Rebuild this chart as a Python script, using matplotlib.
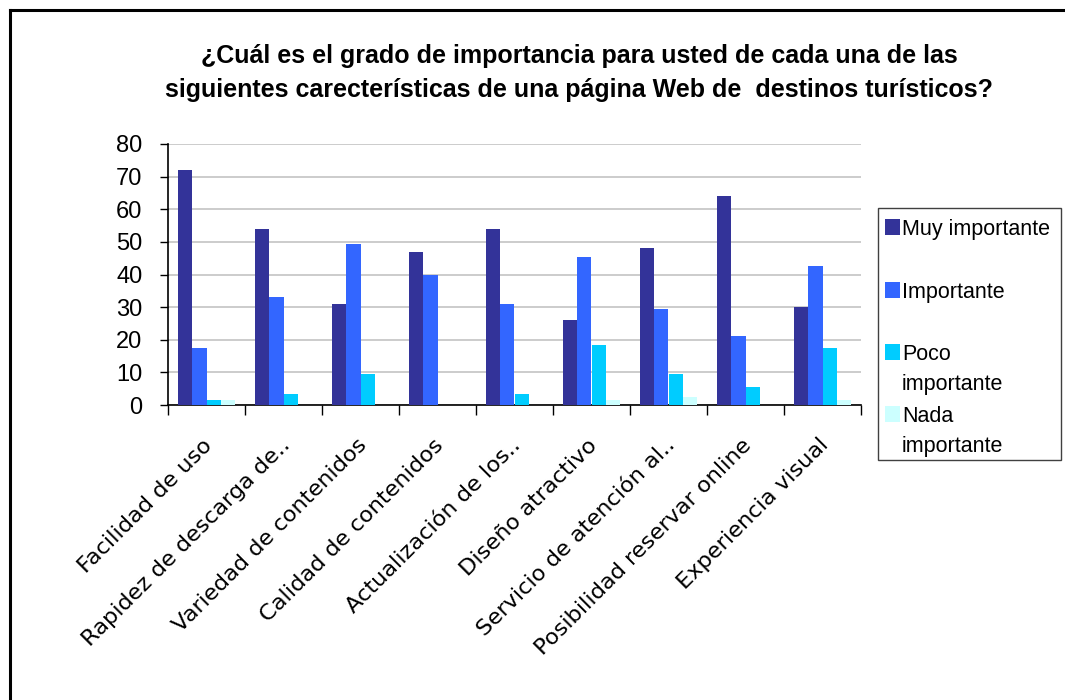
import matplotlib
matplotlib.use("Agg")
import matplotlib.pyplot as plt
from matplotlib import font_manager as fm
from matplotlib.lines import Line2D
from matplotlib.patches import Rectangle
from matplotlib.transforms import blended_transform_factory, ScaledTranslation
import numpy as np

# ---- data -------------------------------------------------------------
categories = [
    "Facilidad de uso",
    "Rapidez de descarga de..",
    "Variedad de contenidos",
    "Calidad de contenidos",
    "Actualización de los..",
    "Diseño atractivo",
    "Servicio de atención al..",
    "Posibilidad reservar online",
    "Experiencia visual",
]
series_names = ["Muy importante", "Importante", "Poco\nimportante", "Nada\nimportante"]
muy_importante = [72, 54, 31, 47, 54, 26, 48, 64, 30]
importante = [17.5, 33, 49.5, 40, 31, 45.5, 29.5, 21, 42.5]
poco_importante = [1.5, 3.5, 9.5, 0, 3.5, 18.5, 9.5, 5.5, 17.5]
nada_importante = [1.5, 0, 0, 0, 0, 1.5, 2.5, 0, 1.5]
series_colors = ["#333399", "#3366FF", "#00CCFF", "#CCFFFF"]
y_ticks = [0, 10, 20, 30, 40, 50, 60, 70, 80]
title_lines = [
    "¿Cuál es el grado de importancia para usted de cada una de las",
    "siguientes carecterísticas de una página Web de  destinos turísticos?",
]

# ---- fonts ------------------------------------------------------------
available = {f.name for f in fm.fontManager.ttflist}
body_font = "Liberation Sans" if "Liberation Sans" in available else "DejaVu Sans"
if "Liberation Sans Narrow" in available:
    title_font, title_size = "Liberation Sans Narrow", 21
else:
    title_font, title_size = body_font, 18
plt.rcParams["font.family"] = [body_font, "DejaVu Sans"]

W, H = 1065, 700
fig = plt.figure(figsize=(W / 100, H / 100), dpi=100)
fig.patch.set_facecolor("white")


def fx(px):
    return px / W


def fy(py):
    return 1 - py / H


ax = fig.add_axes([fx(168), fy(405), fx(861) - fx(168), fy(144) - fy(405)])

values = [muy_importante, importante, poco_importante, nada_importante]
n_groups = len(categories)
n_series = len(values)
bar_w = 0.188
x = np.arange(n_groups)
start = (1 - n_series * bar_w) / 2
for k, (vals, col) in enumerate(zip(values, series_colors)):
    ax.bar(x + start + k * bar_w, vals, width=bar_w, align="edge",
           color=col, edgecolor="none", zorder=3)

ax.set_xlim(0, n_groups)
ax.set_ylim(0, 80)
ax.set_yticks(y_ticks)
ax.set_yticklabels([str(v) for v in y_ticks], fontsize=17)
ax.yaxis.grid(True, color="#c8c8c8", linewidth=1.3, zorder=0)
ax.set_axisbelow(True)
ax.tick_params(axis="y", length=5.5, width=1.0, pad=13, color="black")
ax.set_xticks(np.arange(n_groups + 1))
ax.set_xticklabels([])
ax.tick_params(axis="x", length=7, width=1.0, color="black")
for s in ["top", "right"]:
    ax.spines[s].set_visible(False)
for s in ["left", "bottom"]:
    ax.spines[s].set_color("black")
    ax.spines[s].set_linewidth(1.2)

# category labels, rotated below each group
lab_tr = blended_transform_factory(ax.transData, ax.transAxes) + \
    ScaledTranslation(0.03, -0.37, fig.dpi_scale_trans)
for i, name in enumerate(categories):
    ax.text(i + 0.5, 0, name, transform=lab_tr, rotation=45,
            rotation_mode="anchor", ha="right", va="center", fontsize=16.2,
            family=["DejaVu Sans"])

# title
fig.text(fx(579), fy(63), title_lines[0], ha="center", va="baseline",
         fontsize=title_size, fontweight="bold", family=[title_font, "DejaVu Sans"])
fig.text(fx(579), fy(97), title_lines[1], ha="center", va="baseline",
         fontsize=title_size, fontweight="bold", family=[title_font, "DejaVu Sans"])

# legend box
fig.patches.append(Rectangle((fx(878), fy(460)), fx(1061) - fx(878), fy(208) - fy(460),
                             transform=fig.transFigure, facecolor="white",
                             edgecolor="#404040", linewidth=1.0))
entry_top = [219, 282, 344, 406]
for name, col, top in zip(series_names, series_colors, entry_top):
    fig.patches.append(Rectangle((fx(885), fy(top + 16)), fx(900) - fx(885), fy(top) - fy(top + 16),
                                 transform=fig.transFigure, facecolor=col, edgecolor="none"))
    for j, line in enumerate(name.split("\n")):
        fig.text(fx(902), fy(top + 16 + j * 30), line, ha="left", va="baseline", fontsize=15.5)

# outer frame
fig.lines.append(Line2D([fx(10), fx(10)], [fy(10), 0], transform=fig.transFigure,
                        color="black", linewidth=2.2))
fig.lines.append(Line2D([fx(10), 1], [fy(10), fy(10)], transform=fig.transFigure,
                        color="black", linewidth=2.2))

fig.savefig("out.png", dpi=100)
